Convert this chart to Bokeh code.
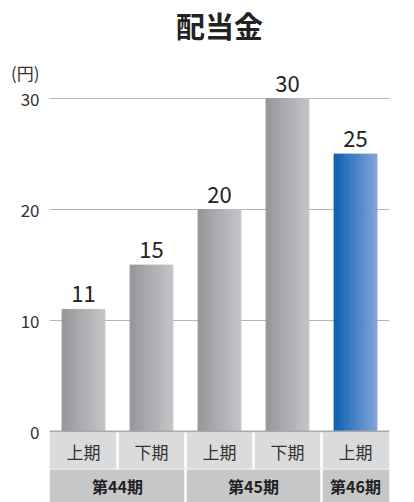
from bokeh.plotting import figure
from bokeh.models import FixedTicker, Range1d
from bokeh.core.properties import value
from bokeh.embed import file_html
from bokeh.resources import INLINE

# ---- data ----
title_text = "配当金"
unit_text = "(円)"
halves = ["上期", "下期", "上期", "下期", "上期"]
periods = ["第44期", "第44期", "第45期", "第45期", "第46期"]
dividends = [11, 15, 20, 30, 25]
current = [False, False, False, False, True]
y_ticks = [0, 10, 20, 30]
unit_tick = 32.3

JP = "Noto Sans CJK JP"

def hex2rgb(h):
    h = h.lstrip("#")
    return tuple(int(h[i:i + 2], 16) for i in (0, 2, 4))

def mix(a, b, t):
    ra, rb = hex2rgb(a), hex2rgb(b)
    return "#%02x%02x%02x" % tuple(int(round(ra[k] + (rb[k] - ra[k]) * t)) for k in range(3))

GRAY = ("#96969a", "#c3c4c7")
BLUE = ("#0a60b2", "#7ea2d8")

p = figure(width=414, height=502, output_backend="svg", toolbar_location=None,
           x_range=Range1d(-0.5, 4.5), y_range=Range1d(-6.396, 38.829),
           min_border_left=49, min_border_right=25, min_border_top=0, min_border_bottom=0)
p.outline_line_color = None
p.background_fill_color = "white"
p.xaxis.visible = False
p.xgrid.visible = False

ax = p.yaxis[0]
ax.ticker = FixedTicker(ticks=y_ticks + [unit_tick])
ax.major_label_overrides = {unit_tick: unit_text}
ax.axis_line_color = None
ax.major_tick_line_color = None
ax.minor_tick_line_color = None
ax.major_label_standoff = 4
ax.major_label_text_font = JP
ax.major_label_text_font_size = "17px"
ax.major_label_text_color = "#333333"

p.ygrid.ticker = FixedTicker(ticks=[t for t in y_ticks if t > 0])
p.ygrid.grid_line_color = "#b5b5b5"
p.ygrid.grid_line_width = 1

# bars with horizontal gradient (strips)
N = 24
bw = 0.632
lefts, rights, tops, cols = [], [], [], []
for i, v in enumerate(dividends):
    c0, c1 = BLUE if current[i] else GRAY
    x0 = i - bw / 2
    for k in range(N):
        lefts.append(x0 + bw * k / N)
        rights.append(x0 + bw * (k + 1) / N)
        tops.append(v)
        cols.append(mix(c0, c1, k / (N - 1)))
p.quad(left=lefts, right=rights, bottom=0, top=tops, fill_color=cols,
       line_color=cols, line_width=0.8)

# value labels
xs = list(range(len(dividends)))
p.text(x=xs, y=dividends, text=[str(v) for v in dividends], text_align="center",
       text_baseline="bottom", y_offset=-7, text_font=value(JP), text_font_size="22px",
       text_color="#222222")

# zero line
p.segment(x0=-0.5, y0=0, x1=4.5, y1=0, line_color="#a8a8a8", line_width=2)

# category band rows
p.quad(left=-0.5, right=4.5, top=-0.1, bottom=-3.36, fill_color="#dadbdc", line_color=None)
p.quad(left=-0.5, right=4.5, top=-3.42, bottom=-6.5, fill_color="#c6c7c9", line_color=None)

# separators between halves (row 1)
p.segment(x0=[i + 0.5 for i in range(len(halves) - 1)], y0=-0.1,
          x1=[i + 0.5 for i in range(len(halves) - 1)], y1=-3.36,
          line_color="white", line_width=2.5)
# group spans (row 2)
groups = []
for i, g in enumerate(periods):
    if groups and groups[-1][0] == g:
        groups[-1][2] = i
    else:
        groups.append([g, i, i])
gx = [(a + b) / 2 for _, a, b in groups]
sep = [b + 0.5 for _, a, b in groups[:-1]]
p.segment(x0=sep, y0=-3.42, x1=sep, y1=-6.5, line_color="white", line_width=2.5)

p.text(x=xs, y=-1.8, text=halves, text_align="center", text_baseline="middle",
       text_font=value(JP), text_font_size="17px", text_color="#333333")
p.text(x=gx, y=-4.9, text=[g[0] for g in groups], text_align="center", text_baseline="middle",
       text_font=value(JP), text_font_size="16px", text_font_style="bold", text_color="#222222")

# title
p.text(x=[2.0], y=[36.62], text=[title_text], text_align="center", text_baseline="middle",
       text_font=value(JP), text_font_size="29px", text_font_style="bold", text_color="#222222")

open("out.html", "w").write(file_html(p, INLINE))
